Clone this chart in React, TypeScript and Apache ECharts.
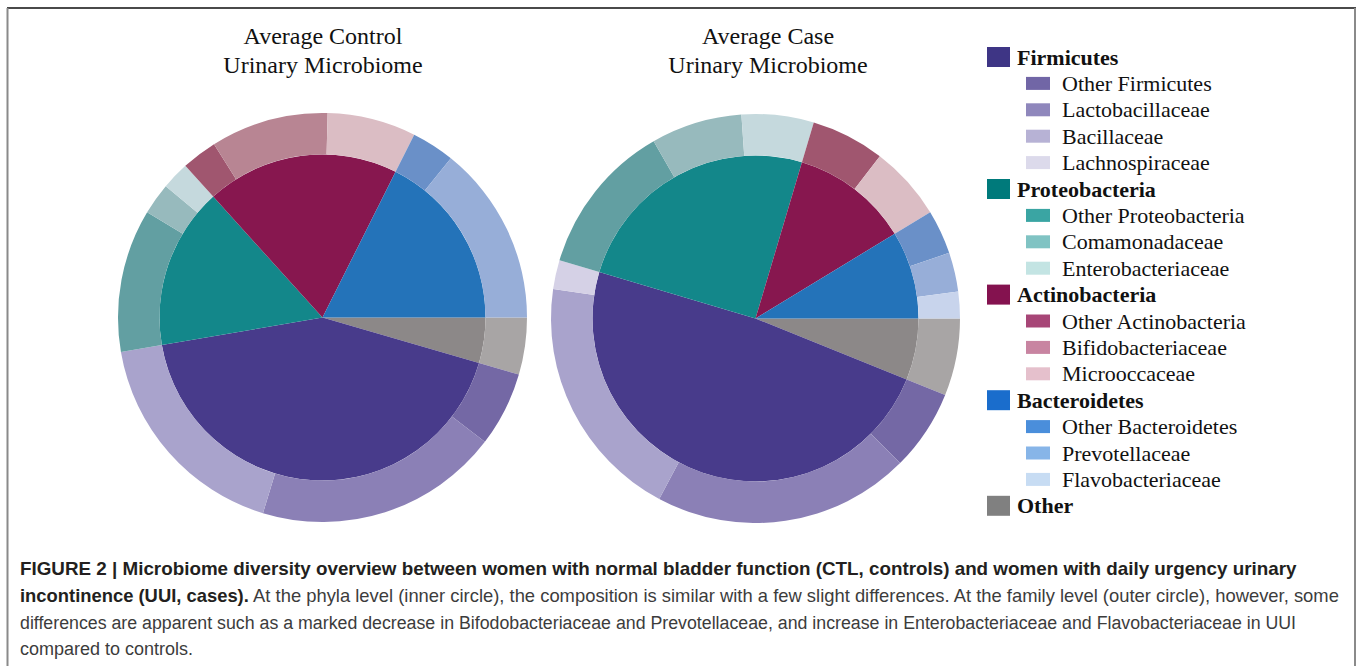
import React, { useEffect, useRef } from "react";
import * as echarts from "echarts";

// ---- data (percent of reads) ----
const phylumNames = ["Firmicutes", "Proteobacteria", "Actinobacteria", "Bacteroidetes", "Other"];
const familyNames = [
  "Other Firmicutes", "Lactobacillaceae", "Bacillaceae", "Lachnospiraceae",
  "Other Proteobacteria", "Comamonadaceae", "Enterobacteriaceae",
  "Other Actinobacteria", "Bifidobacteriaceae", "Microoccaceae",
  "Other Bacteroidetes", "Prevotellaceae", "Flavobacteriaceae",
  "Other",
];
// which phylum each family belongs to (index into phylumNames)
const familyPhylum = [0, 0, 0, 0, 1, 1, 1, 2, 2, 2, 3, 3, 3, 4];

const controlPhyla = [42.8, 16.0, 19.1, 17.6, 4.5];
const casePhyla = [48.5, 25.0, 11.7, 8.7, 6.1];
const controlFamilies = [5.9, 19.3, 17.6, 0, 11.3, 2.5, 2.2, 2.8, 9.3, 7.0, 3.4, 14.2, 0, 4.5];
const caseFamilies = [6.4, 20.3, 19.5, 2.3, 12.1, 7.2, 5.7, 5.8, 0, 5.9, 3.5, 3.1, 2.1, 6.1];

const chartTitles = ["Average Control\nUrinary Microbiome", "Average Case\nUrinary Microbiome"];

const captionBold1 = "FIGURE 2 | Microbiome diversity overview between women with normal bladder function (CTL, controls) and women with daily urgency urinary";
const captionBold2 = "incontinence (UUI, cases).";
const captionRest2 = " At the phyla level (inner circle), the composition is similar with a few slight differences. At the family level (outer circle), however, some";
const captionLine3 = "differences are apparent such as a marked decrease in Bifodobacteriaceae and Prevotellaceae, and increase in Enterobacteriaceae and Flavobacteriaceae in UUI";
const captionLine4 = "compared to controls.";

// ---- styles ----
const phylumPieColors = ["#483b8b", "#13878a", "#87174f", "#2473b9", "#8c8888"];
const familyPieColors = [
  "#7468a5", "#8b80b6", "#a9a3cc", "#d5d1e6",
  "#629fa2", "#97babd", "#c5d9dd",
  "#a0566f", "#b88593", "#dbbdc4",
  "#6a90c8", "#97aed8", "#c8d4ec",
  "#a8a5a5",
];
const phylumLegendColors = ["#3e3585", "#007a7b", "#84124f", "#1a6dcc", "#808080"];
const familyLegendColors = [
  "#7166a6", "#8f87bc", "#b7b2d5", "#dcdaeb",
  "#3aa5a3", "#80c3c3", "#c3e4e3",
  "#a74677", "#c884a1", "#e5c0cc",
  "#4a8edb", "#87b5e8", "#c7dcf3",
];

const SERIF = "'Liberation Serif', 'Times New Roman', serif";
const SANS = "'Liberation Sans', Arial, sans-serif";

function pieOrderPhyla(values: number[]) {
  // "Other" first, then the phyla; drawn clockwise from 3 o'clock
  const order = [4, 0, 1, 2, 3];
  return order.map((i) => ({ name: phylumNames[i], value: values[i], itemStyle: { color: phylumPieColors[i] } }));
}
function pieOrderFamilies(values: number[]) {
  const order = [13, 0, 1, 2, 3, 4, 5, 6, 7, 8, 9, 10, 11, 12];
  return order.map((i) => ({ name: familyNames[i], value: values[i], itemStyle: { color: familyPieColors[i] } }));
}

function measure(text: string, font: string) {
  const c = document.createElement("canvas").getContext("2d");
  if (!c) return 0;
  c.font = font;
  return c.measureText(text).width;
}

export default function App() {
  const ref = useRef<HTMLDivElement>(null);
  useEffect(() => {
    if (!ref.current) return;
    const chart = echarts.init(ref.current, undefined, { renderer: "svg" });

    const centers = [
      [322.5, 317.5],
      [755.5, 318.5],
    ];
    const rInner = 163;
    const rOuter = 204.5;

    const series: any[] = [];
    [
      [controlPhyla, controlFamilies],
      [casePhyla, caseFamilies],
    ].forEach(([ph, fam], k) => {
      series.push({
        type: "pie",
        name: "phyla" + k,
        center: centers[k],
        radius: [0, rInner],
        startAngle: 0,
        clockwise: true,
        label: { show: false },
        labelLine: { show: false },
        emphasis: { disabled: true },
        itemStyle: { borderWidth: 0 },
        data: pieOrderPhyla(ph),
      });
      series.push({
        type: "pie",
        name: "families" + k,
        center: centers[k],
        radius: [rInner, rOuter],
        startAngle: 0,
        clockwise: true,
        label: { show: false },
        labelLine: { show: false },
        emphasis: { disabled: true },
        itemStyle: { borderWidth: 0 },
        data: pieOrderFamilies(fam),
      });
    });

    // legend rows: phylum followed by its families
    const legendRows: { name: string; level: number; color: string }[] = [];
    phylumNames.forEach((p, pi) => {
      legendRows.push({ name: p, level: 0, color: phylumLegendColors[pi] });
      familyNames.forEach((f, fi) => {
        if (familyPhylum[fi] === pi && f !== "Other") {
          legendRows.push({ name: f, level: 1, color: familyLegendColors[fi] });
        }
      });
    });
    const legends = legendRows.map((row, i) => {
      const cy = 57 + i * 26.4;
      return {
        show: true,
        orient: "horizontal",
        left: row.level === 0 ? 987 : 1026,
        top: cy - 11.5,
        padding: 0,
        itemGap: 0,
        itemWidth: row.level === 0 ? 23 : 24,
        itemHeight: row.level === 0 ? 20 : 13,
        icon: "rect",
        selectedMode: false,
        data: [{ name: row.name, icon: "rect", itemStyle: { color: row.color, borderWidth: 0 } }],
        textStyle: {
          fontFamily: SERIF,
          fontSize: 22,
          lineHeight: 23,
          fontWeight: row.level === 0 ? "bold" : "normal",
          color: "#111",
          padding: [0, 0, 0, row.level === 0 ? 2 : 7],
        },
      };
    });

    const titles = chartTitles.map((t, k) => ({
      text: t,
      left: k === 0 ? 323 : 768,
      top: 21,
      padding: 0,
      textAlign: "center",
      textStyle: {
        fontFamily: SERIF,
        fontSize: 24,
        fontWeight: "normal",
        lineHeight: 29.5,
        color: "#111",
      },
    }));

    // caption
    const capX = 20;
    const capY = [569, 596, 622.5, 649];
    const boldFont = `bold 18px ${SANS}`;
    const regFont = `18px ${SANS}`;
    const w1 = measure(captionBold1, boldFont);
    const w2 = measure(captionBold2, boldFont) + measure(captionRest2, regFont);
    const w3 = measure(captionLine3, regFont);
    const s1 = w1 > 0 ? (1297 - capX) / w1 : 1;
    const s2 = w2 > 0 ? (1341 - capX) / w2 : 1;
    const s3 = w3 > 0 ? (1296 - capX) / w3 : 1;

    const graphic: any[] = [
      { type: "line", shape: { x1: 7, y1: 8, x2: 1356, y2: 8 }, style: { stroke: "#4a4a4a", lineWidth: 2 } },
      { type: "line", shape: { x1: 7.5, y1: 8, x2: 7.5, y2: 666 }, style: { stroke: "#8a8a8a", lineWidth: 2 } },
      { type: "line", shape: { x1: 1355, y1: 8, x2: 1355, y2: 666 }, style: { stroke: "#8a8a8a", lineWidth: 2 } },
      {
        type: "text", x: capX, y: capY[0], scaleX: s1,
        style: { text: captionBold1, font: boldFont, fill: "#231f20", verticalAlign: "middle" },
      },
      {
        type: "text", x: capX, y: capY[1], scaleX: s2,
        style: {
          text: `{b|${captionBold2}}{r|${captionRest2}}`,
          verticalAlign: "middle",
          rich: {
            b: { fontFamily: SANS, fontSize: 18, fontWeight: "bold", fill: "#231f20", color: "#231f20" },
            r: { fontFamily: SANS, fontSize: 18, fontWeight: "normal", fill: "#3c3c3c", color: "#3c3c3c" },
          },
        },
      },
      {
        type: "text", x: capX, y: capY[2], scaleX: s3,
        style: { text: captionLine3, font: regFont, fill: "#3c3c3c", verticalAlign: "middle" },
      },
      {
        type: "text", x: capX, y: capY[3],
        style: { text: captionLine4, font: regFont, fill: "#3c3c3c", verticalAlign: "middle" },
      },
    ];

    chart.setOption({
      animation: false,
      backgroundColor: "#ffffff",
      title: titles,
      legend: legends,
      series,
      graphic,
    });
    return () => chart.dispose();
  }, []);

  return (
    <div
      ref={ref}
      style={{ position: "fixed", left: 0, top: 0, width: 1358, height: 666, background: "#fff" }}
    />
  );
}
